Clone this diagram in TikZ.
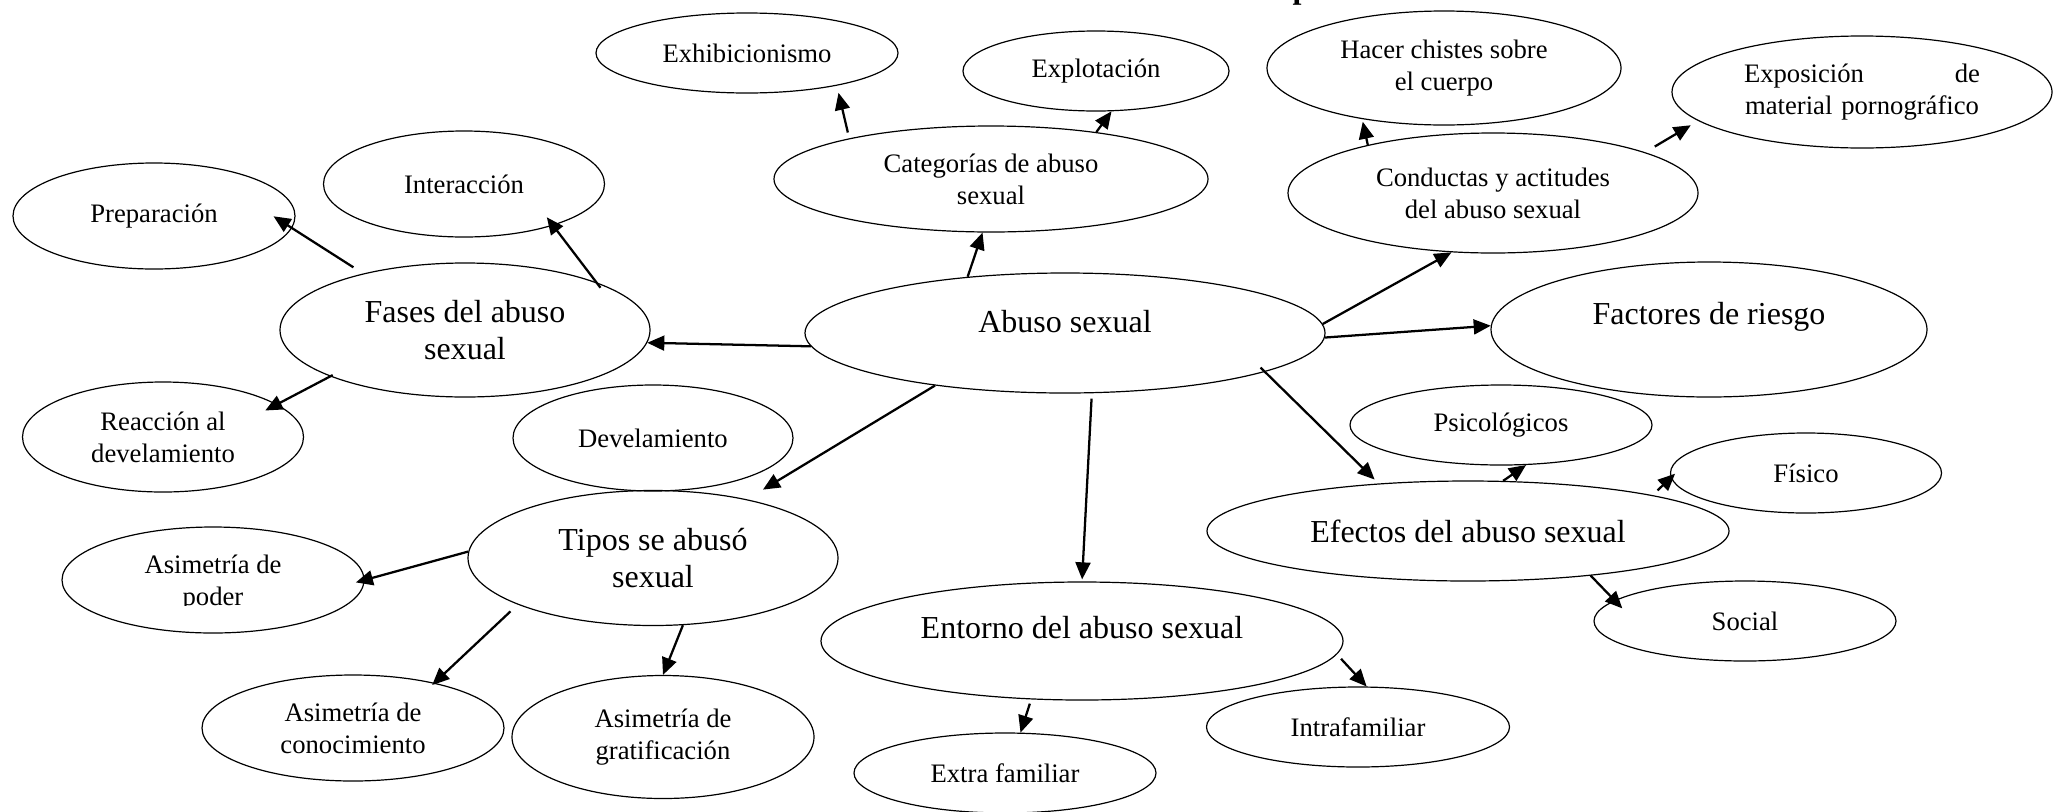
\documentclass[tikz,border=0pt]{standalone}
\usepackage{fontspec}
\setmainfont{Liberation Serif}
\usepackage{trimclip}
\usetikzlibrary{shapes.geometric,arrows.meta}

\tikzset{
  bubble/.style 2 args={ellipse, draw, line width=0.45pt, inner sep=0pt,
    minimum width=#1*0.375pt, minimum height=#2*0.375pt, align=center},
  bigtxt/.style={font=\fontsize{12}{13.8}\selectfont},
  smalltxt/.style={font=\fontsize{10}{12}\selectfont},
  link/.style={line width=0.85pt, -{Triangle[length=6.4pt,width=5.6pt]}}
}

\begin{document}
\begin{tikzpicture}[x=0.375pt, y=-0.375pt]
  \useasboundingbox (0,0) rectangle (2054,811);

  \node[anchor=base west, inner sep=0pt, font=\fontsize{12}{14}\selectfont\bfseries] (titulo) at (1292,-2) {p};

  \node[bubble={520}{120}, bigtxt, text depth=9pt] (abuso) at (1065,333) {Abuso sexual};

  \node[bubble={434}{106}, smalltxt] (categ) at (991,179) {Categorías de abuso\\sexual};
  \node[bubble={302}{80}, smalltxt] (exhib) at (747,53) {Exhibicionismo};
  \node[bubble={266}{80}, smalltxt] (explot) at (1096,71) {Explotación};

  \node[bubble={410}{120}, smalltxt] (conduc) at (1493,193) {Conductas y actitudes\\del abuso sexual};
  \node[bubble={354}{114}, smalltxt] (chistes) at (1444,68) {Hacer chistes sobre\\el cuerpo};
  \node[bubble={380}{112}, smalltxt, text width=88.5pt] (expos) at (1862,92) {Exposición\hfill de\\material pornográfico};

  \node[bubble={436}{135}, bigtxt, text depth=12.4pt] (factores) at (1709,329.5) {Factores de riesgo};

  \node[bubble={370}{134}, bigtxt] (fases) at (465,330) {Fases del abuso\\sexual};
  \node[bubble={281}{106}, smalltxt] (interac) at (464,184) {Interacción};
  \node[bubble={282}{106}, smalltxt] (prep) at (154,216) {Preparación};
  \node[bubble={281}{110}, smalltxt] (reacc) at (163,437) {Reacción al\\develamiento};
  \node[bubble={280}{106}, smalltxt] (devel) at (653,438) {Develamiento};

  \node[bubble={370}{135}, bigtxt] (tipos) at (653,558) {Tipos se abusó\\sexual};
  \node[bubble={302}{106}, smalltxt] (asimpod) at (213,580) {Asimetría de\\\clipbox{0pt {\depth} 0pt 0pt}{poder}};
  \node[bubble={302}{106}, smalltxt] (asimcon) at (353,728) {Asimetría de\\conocimiento};
  \node[bubble={302}{123}, smalltxt] (asimgrat) at (663,737) {Asimetría de\\gratificación};

  \node[bubble={522}{118}, bigtxt, text depth=10.5pt] (entorno) at (1082,641) {Entorno del abuso sexual};
  \node[bubble={302}{80}, smalltxt] (extra) at (1005,773) {Extra familiar};
  \node[bubble={303}{80}, smalltxt] (intra) at (1358,727) {Intrafamiliar};

  \node[bubble={522}{100}, bigtxt] (efectos) at (1468,531) {Efectos del abuso sexual};
  \node[bubble={302}{80}, smalltxt] (psico) at (1501,425) {Psicológicos};
  \node[bubble={271}{80}, smalltxt] (fisico) at (1806,473) {Físico};
  \node[bubble={302}{80}, smalltxt] (social) at (1745,621) {Social};

  \draw[link] (abuso.150.3) -- (categ.261.7);
  \draw[link, shorten <=2.25pt, shorten >=2.75pt] (categ.164.2) -- (exhib.340.9);
  \draw[link] (categ.24.5) -- (explot.291.3);
  \draw[link, shorten >=1pt] (conduc.159.2) -- (chistes.212.1);
  \draw[link, shorten <=4.2pt, shorten >=3.2pt] (conduc.15.25) -- (expos.190.6);
  \draw[link] (abuso.2) -- (conduc.235.6);
  \draw[link] (abuso.359.1) -- (factores.179.1);
  \draw[link] (abuso.183.6) -- (fases.356.9);
  \draw[link, shorten <=4.3pt, shorten >=-8.2pt] (fases.151.4) -- (prep.355);
  \draw[link, shorten <=-2.6pt, shorten >=-3.9pt] (fases.20.96) -- (interac.335.7);
  \draw[link, shorten <=-1.1pt, shorten >=-5pt] (fases.199.1) -- (reacc.16.4);
  \draw[link, shorten >=7pt] (abuso.202) -- (tipos.32.1);
  \draw[link, shorten >=-3.4pt] (tipos.178.2) -- (asimpod.0.8);
  \draw[link, shorten <=3.7pt, shorten >=-1.2pt] (tipos.199.9) -- (asimcon.29.6);
  \draw[link] (tipos.294.1) -- (asimgrat.90);
  \draw[link, shorten <=2pt, shorten >=0.75pt] (abuso.294.6) -- (entorno.90);
  \draw[link, shorten <=1.65pt] (entorno.229.5) -- (extra.69.4);
  \draw[link, shorten <=2.25pt] (entorno.357.5) -- (intra.78.7);
  \draw[link, shorten <=-2.3pt, shorten >=2.1pt] (abuso.349.9) -- (efectos.152.8);
  \draw[link] (efectos.55) -- (psico.302.4);
  \draw[link, shorten <=2.6pt, shorten >=-2.2pt] (efectos.11.5) -- (fisico.182.6);
  \draw[link, shorten >=-4.2pt] (efectos.340.9) -- (social.171.3);
\end{tikzpicture}
\end{document}
